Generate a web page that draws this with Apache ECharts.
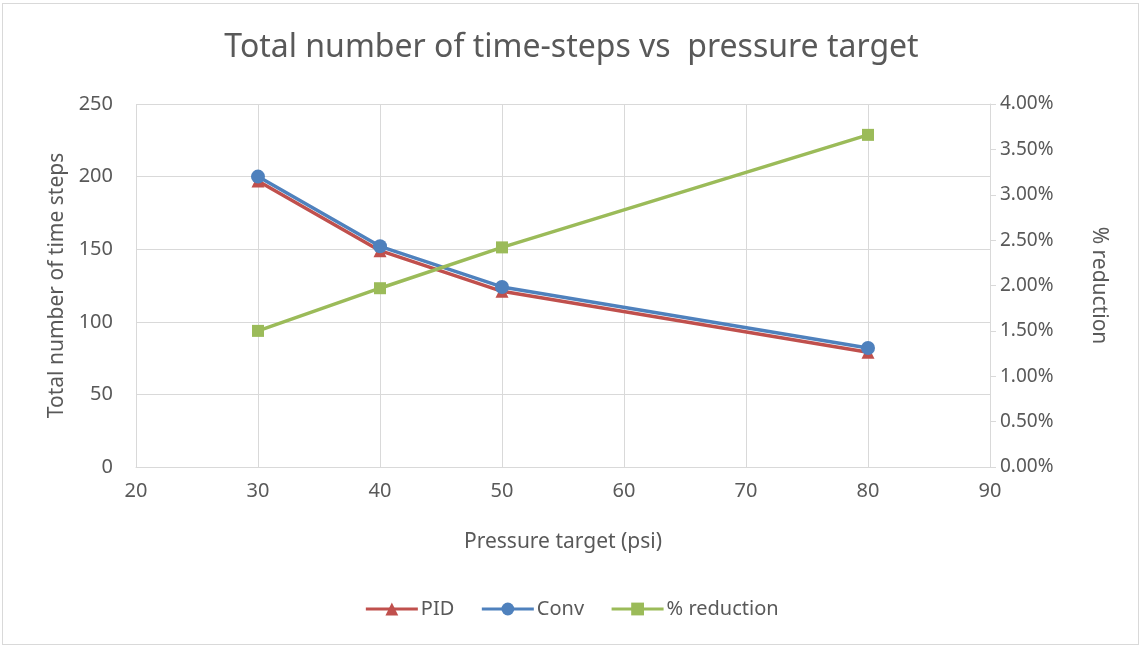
<!DOCTYPE html>
<html>
<head>
<meta charset="utf-8">
<script src="https://cdn.jsdelivr.net/npm/echarts@6/dist/echarts.min.js"></script>
<style>
html,body{margin:0;padding:0;background:#fff;}
#c{width:1143px;height:648px;box-sizing:border-box;}
#frame{position:absolute;left:2px;top:3px;width:1137px;height:642px;border:1px solid #D9D9D9;box-sizing:border-box;pointer-events:none;}
</style>
</head>
<body>
<div id="c"></div>
<div id="frame"></div>
<script>
const pressure = [30, 40, 50, 80];
const pid = [197, 149, 121, 79];
const conv = [200, 152, 124, 82];
const reduction = [1.50, 1.97, 2.42, 3.66];
const leftTicks = [0, 50, 100, 150, 200, 250];
const rightTicks = [0, 0.5, 1, 1.5, 2, 2.5, 3, 3.5, 4];

const font = 'Noto Sans';
const grey = '#595959';
const chart = echarts.init(document.getElementById('c'));
chart.setOption({
  animation: false,
  title: {
    text: 'Total number of time-steps vs  pressure target',
    left: 'center', top: 27,
    textStyle: {fontFamily: font, fontSize: 32, fontWeight: 'normal', color: grey}
  },
  legend: {
    bottom: 24, left: 'center', itemGap: 26, itemWidth: 52, itemHeight: 16,
    lineStyle: {width: 3},
    textStyle: {fontFamily: font, fontSize: 20, color: grey, padding: [0, 0, 0, -2]},
    data: ['PID', 'Conv', '% reduction']
  },
  grid: {left: 136, right: 153, top: 104, bottom: 181},
  xAxis: {
    type: 'value', min: 20, max: 90, interval: 10,
    name: 'Pressure target (psi)', nameLocation: 'middle', nameGap: 65,
    nameTextStyle: {fontFamily: font, fontSize: 21, color: grey},
    axisLine: {show: true, lineStyle: {color: '#D9D9D9', width: 1}},
    axisTick: {show: false},
    axisLabel: {fontFamily: font, fontSize: 20, color: grey, margin: 14},
    splitLine: {show: true, lineStyle: {color: '#D9D9D9', width: 1}}
  },
  yAxis: [
    {
      type: 'value', min: 0, max: 250, interval: 50, position: 'left',
      name: 'Total number of time steps', nameLocation: 'middle', nameGap: 68, nameRotate: 90,
      nameTextStyle: {fontFamily: font, fontSize: 21, color: grey},
      axisLine: {show: false}, axisTick: {show: false},
      axisLabel: {fontFamily: font, fontSize: 20, color: grey, margin: 23,
        formatter: v => leftTicks.includes(v) ? String(v) : ''},
      splitLine: {show: true, lineStyle: {color: '#D9D9D9', width: 1}}
    },
    {
      type: 'value', min: 0, max: 4, interval: 0.5, position: 'right',
      name: '% reduction', nameLocation: 'middle', nameGap: 98, nameRotate: -90,
      nameTextStyle: {fontFamily: font, fontSize: 21, color: grey},
      axisLine: {show: true, lineStyle: {color: '#D9D9D9', width: 1}},
      axisTick: {show: true, length: 6, lineStyle: {color: '#D9D9D9'}},
      axisLabel: {fontFamily: font, fontSize: 19, color: grey, margin: 10,
        formatter: v => rightTicks.includes(v) ? v.toFixed(2) + '%' : ''},
      splitLine: {show: false}
    }
  ],
  series: [
    {
      name: 'PID', type: 'line', yAxisIndex: 0,
      data: pressure.map((p, i) => [p, pid[i]]),
      symbol: 'triangle', symbolSize: 13,
      lineStyle: {color: '#C0504D', width: 3.5}, itemStyle: {color: '#C0504D'}
    },
    {
      name: 'Conv', type: 'line', yAxisIndex: 0,
      data: pressure.map((p, i) => [p, conv[i]]),
      symbol: 'circle', symbolSize: 14,
      lineStyle: {color: '#4F81BD', width: 3.5}, itemStyle: {color: '#4F81BD'}
    },
    {
      name: '% reduction', type: 'line', yAxisIndex: 1,
      data: pressure.map((p, i) => [p, reduction[i]]),
      symbol: 'rect', symbolSize: 12,
      lineStyle: {color: '#9BBB59', width: 3.5}, itemStyle: {color: '#9BBB59'}
    }
  ]
});
</script>
</body>
</html>
